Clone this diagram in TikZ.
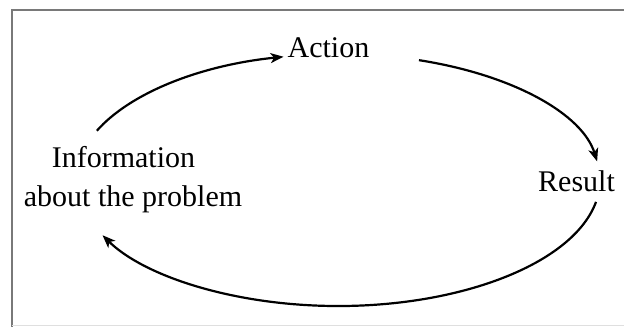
\documentclass[tikz,border=0pt]{standalone}
\usepackage{fontspec}
\setmainfont{Liberation Serif}
\usetikzlibrary{arrows.meta,calc}
\begin{document}
\begin{tikzpicture}[x=1pt,y=1pt,
  lbl/.style={font=\fontsize{30}{39}\selectfont, inner sep=0pt, anchor=base, align=center},
  cyc/.style={line width=2.2pt, -{Stealth[length=13pt,width=10pt,inset=3.5pt]}},
  frame/.style={draw=gray!95!black, line width=2pt}]
\useasboundingbox (0,0) rectangle (624,327);
% frame
\draw[frame] (12,0) -- (12,317) -- (624,317);
\draw[draw=gray!25, line width=1.2pt] (12,1.5) -- (624,1.5);
% labels
\node[lbl] (act) at (328.5,269) {Action};
\node[lbl] (res) at (576.5,135) {Result};
\node[lbl, anchor=north] (info) at (133,181) {Information\hspace*{19pt}\\about the problem};
% ellipse centre
\coordinate (c) at (338,147);
% connectors
\draw[cyc] ($(c)+(157:262 and 126)$) coordinate (s1)
  arc[start angle=157, end angle=102, x radius=262, y radius=126] coordinate (e1);
\draw[cyc] ($(c)+(72:262 and 126)$) coordinate (s2)
  arc[start angle=72, end angle=8.5, x radius=262, y radius=126] coordinate (e2);
\draw[cyc] ($(c)+(-10:262 and 126)$) coordinate (s3)
  arc[start angle=-10, end angle=-154, x radius=262, y radius=126] coordinate (e3);
\end{tikzpicture}
\end{document}
